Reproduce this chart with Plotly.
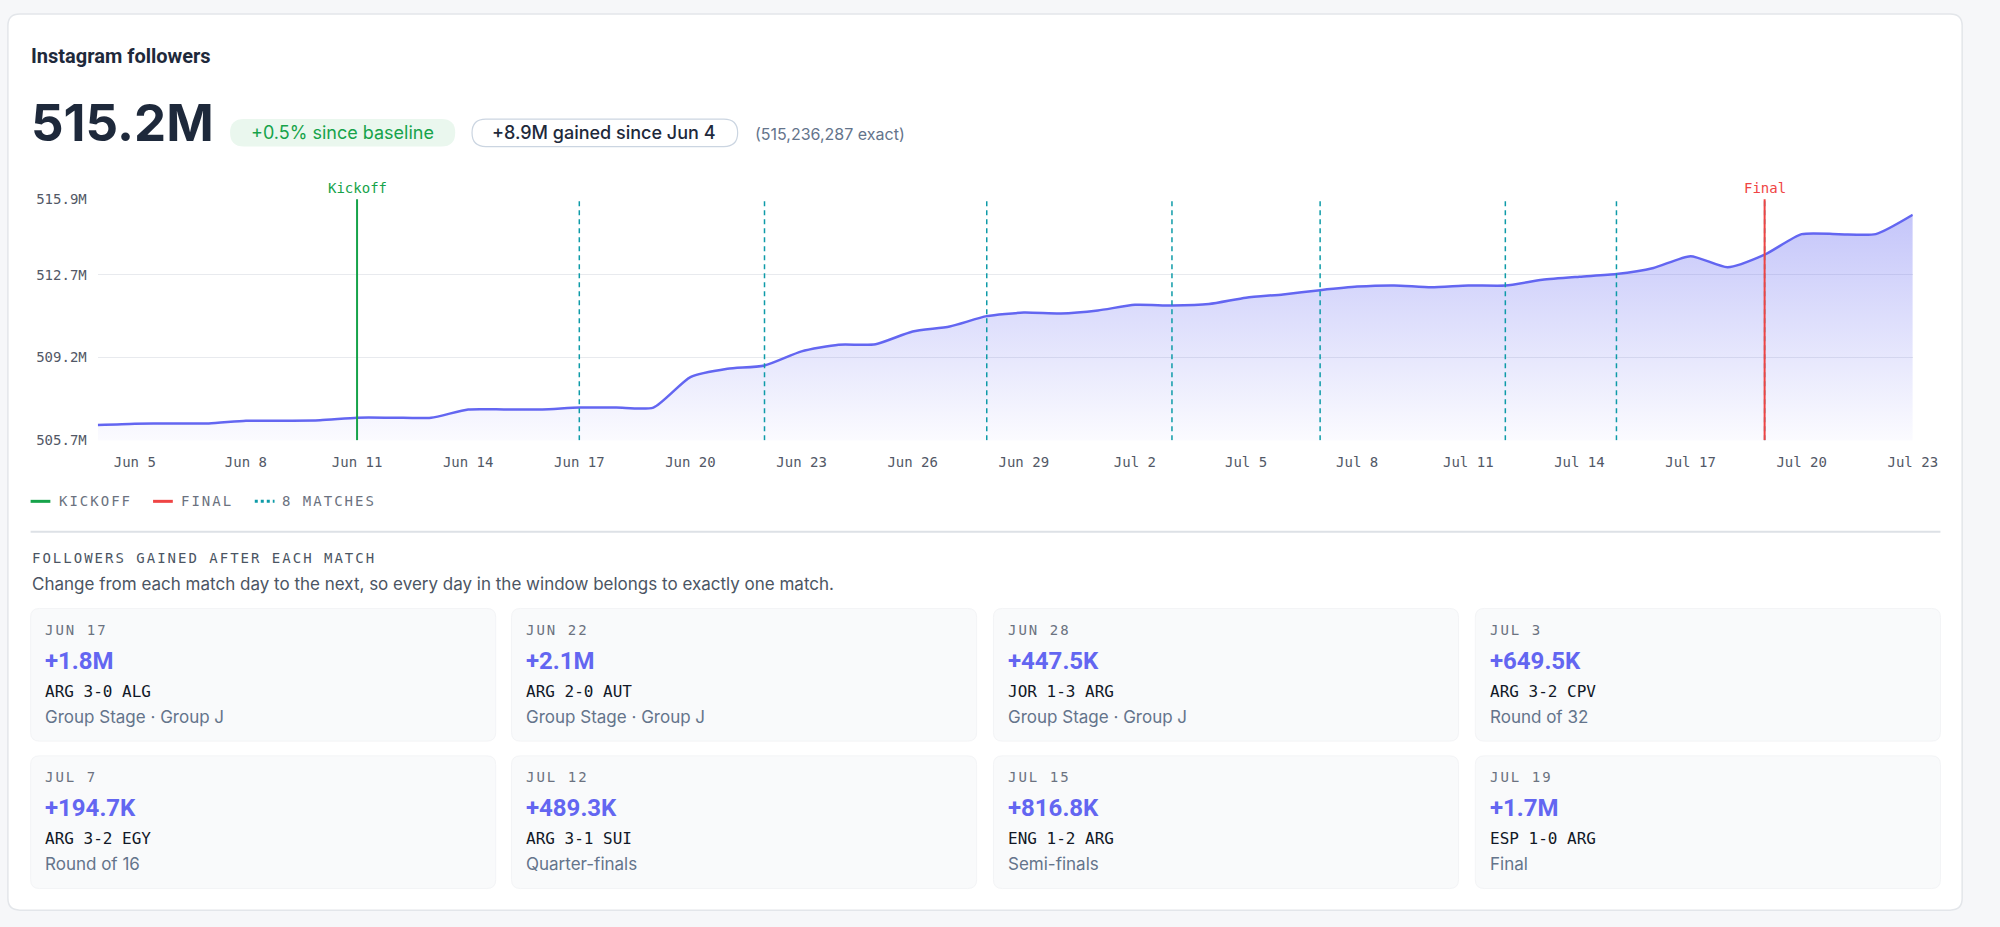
import pandas as pd
import plotly.graph_objects as go

# ─── Data ─────────────────────────────────────────────
dates = pd.date_range("2026-06-04", "2026-07-23", freq="D")
followers_m = [
    506.34, 506.40, 506.41, 506.41, 506.52, 506.52, 506.54, 506.65, 506.65, 506.65,
    507.00, 507.00, 507.00, 507.08, 507.08, 507.08, 508.37, 508.72, 508.86, 509.46,
    509.74, 509.76, 510.30, 510.51, 510.95, 511.10, 511.06, 511.19, 511.43, 511.40,
    511.46, 511.73, 511.87, 512.05, 512.20, 512.25, 512.17, 512.25, 512.245, 512.49,
    512.62, 512.73, 512.99, 513.49, 513.02, 513.55, 514.42, 514.42, 514.42, 515.24,
]

kickoff_date = "2026-06-11"
final_date = "2026-07-19"
match_dates = ["2026-06-17", "2026-06-22", "2026-06-28", "2026-07-03",
               "2026-07-07", "2026-07-12", "2026-07-15", "2026-07-19"]

x_tick_dates = ["2026-06-05", "2026-06-08", "2026-06-11", "2026-06-14", "2026-06-17",
                "2026-06-20", "2026-06-23", "2026-06-26", "2026-06-29", "2026-07-02",
                "2026-07-05", "2026-07-08", "2026-07-11", "2026-07-14", "2026-07-17",
                "2026-07-20", "2026-07-23"]
x_tick_labels = ["Jun 5", "Jun 8", "Jun 11", "Jun 14", "Jun 17", "Jun 20", "Jun 23",
                 "Jun 26", "Jun 29", "Jul 2", "Jul 5", "Jul 8", "Jul 11", "Jul 14",
                 "Jul 17", "Jul 20", "Jul 23"]
y_tick_vals = [505.7, 509.2, 512.7, 515.9]
y_tick_labels = ["505.7M", "509.2M", "512.7M", "515.9M"]

card_dates = ["JUN 17", "JUN 22", "JUN 28", "JUL 3", "JUL 7", "JUL 12", "JUL 15", "JUL 19"]
card_gains = ["+1.8M", "+2.1M", "+447.5K", "+649.5K", "+194.7K", "+489.3K", "+816.8K", "+1.7M"]
card_matches = ["ARG 3-0 ALG", "ARG 2-0 AUT", "JOR 1-3 ARG", "ARG 3-2 CPV",
                "ARG 3-2 EGY", "ARG 3-1 SUI", "ENG 1-2 ARG", "ESP 1-0 ARG"]
card_stages = ["Group Stage · Group J", "Group Stage · Group J", "Group Stage · Group J",
               "Round of 32", "Round of 16", "Quarter-finals", "Semi-finals", "Final"]

# ─── Style ────────────────────────────────────────────
W, H = 2000, 927
SANS = "Inter, Roboto, sans-serif"
NARROW = "Roboto, Inter, sans-serif"
MONO = "'DejaVu Sans Mono', 'Liberation Mono', monospace"
INK = "#1e293b"
MUTED = "#64748b"
INDIGO = "#6366f1"
GREEN = "#16a34a"
RED = "#ef4444"
TEAL = "#0e9ba8"


def fx(p):
    # page pixel -> paper fraction
    return p / W


def fy(p):
    return 1 - p / H


def rrect(x0, y0, x1, y1, r, fill, line=None, lw=0, layer="below"):
    path = (f"M {fx(x0 + r)},{fy(y0)} L {fx(x1 - r)},{fy(y0)} Q {fx(x1)},{fy(y0)} {fx(x1)},{fy(y0 + r)} "
            f"L {fx(x1)},{fy(y1 - r)} Q {fx(x1)},{fy(y1)} {fx(x1 - r)},{fy(y1)} "
            f"L {fx(x0 + r)},{fy(y1)} Q {fx(x0)},{fy(y1)} {fx(x0)},{fy(y1 - r)} "
            f"L {fx(x0)},{fy(y0 + r)} Q {fx(x0)},{fy(y0)} {fx(x0 + r)},{fy(y0)} Z")
    return dict(type="path", path=path, xref="paper", yref="paper", fillcolor=fill,
                line=dict(color=line or fill, width=lw), layer=layer)


def label(x, y, s, size, color, family=SANS, weight=400, anchor="left", spacing=None):
    if spacing:
        s = f'<span style="letter-spacing:{spacing}px">{s}</span>'
    return dict(x=fx(x), y=fy(y), xref="paper", yref="paper", text=s, showarrow=False,
                xanchor=anchor, yanchor="middle", borderpad=0, borderwidth=0,
                font=dict(family=family, size=size, color=color, weight=weight))


shapes = []
annotations = []

# outer card
shapes.append(rrect(8, 6, 1987, 918, 12, "#ffffff", "#e3e6ea", 1.5))

# header
annotations.append(label(31, 49, "Instagram followers", 20, INK, NARROW, 700))
annotations.append(label(31, 117, "515.2M", 51, INK, SANS, 700))
shapes.append(rrect(233, 113, 461, 141, 14, "#eaf7ee"))
annotations.append(label(347, 127, "+0.5% since baseline", 18, GREEN, anchor="center"))
shapes.append(rrect(478, 113, 747, 141, 14, "#ffffff", "#cbd5e1", 1.2))
annotations.append(label(612, 127, "+8.9M gained since Jun 4", 18, INK, weight=500, anchor="center"))
annotations.append(label(765, 128, "(515,236,287 exact)", 16, MUTED))

# event markers on the chart
for d in match_dates:
    shapes.append(dict(type="line", xref="x", yref="y", x0=d, x1=d, y0=505.7, y1=515.9,
                       line=dict(color=TEAL, width=1.5, dash="5px,4px")))
shapes.append(dict(type="line", xref="x", yref="y", x0=kickoff_date, x1=kickoff_date,
                   y0=505.7, y1=515.9, line=dict(color=GREEN, width=2)))
shapes.append(dict(type="line", xref="x", yref="y", x0=final_date, x1=final_date,
                   y0=505.7, y1=515.9, line=dict(color=RED, width=2)))
for d, name, col in [(kickoff_date, "Kickoff", GREEN), (final_date, "Final", RED)]:
    annotations.append(dict(x=d, y=fy(183), xref="x", yref="paper", text=name, showarrow=False,
                            xanchor="center", yanchor="middle",
                            font=dict(family=MONO, size=14, color=col)))

# legend row
legend_items = [(31, 60, GREEN, "solid", "KICKOFF"), (155, 183, RED, "solid", "FINAL"),
                (258, 286, TEAL, "3px,3px", "8 MATCHES")]
for x0, tx, col, dash, name in legend_items:
    shapes.append(dict(type="line", xref="paper", yref="paper", x0=fx(x0), x1=fx(x0 + 20),
                       y0=fy(502), y1=fy(502), line=dict(color=col, width=3, dash=dash)))
    annotations.append(label(tx, 502, name, 14, "#6b7280", MONO, spacing=2))

# divider + section header
shapes.append(dict(type="line", xref="paper", yref="paper", x0=fx(31), x1=fx(1965),
                   y0=fy(533), y1=fy(533), line=dict(color="#dde1e6", width=2)))
annotations.append(label(32, 560, "FOLLOWERS GAINED AFTER EACH MATCH", 14, "#4b5563", MONO, spacing=2))
annotations.append(label(32, 586, "Change from each match day to the next, so every day in the window "
                                  "belongs to exactly one match.", 17, "#4b5563"))

# match cards
card_lefts = [31, 518, 1006, 1494]
card_w = 471
row_tops = [611, 761]
for i in range(len(card_dates)):
    cx = card_lefts[i % 4]
    cy = row_tops[i // 4]
    shapes.append(rrect(cx, cy, cx + card_w, cy + 135, 9, "#f9fafb", "#f3f4f6", 1))
    annotations.append(label(cx + 15, cy + 22, card_dates[i], 14, "#6b7280", MONO, spacing=2))
    annotations.append(label(cx + 15, cy + 53, card_gains[i], 24, INDIGO, NARROW, 700))
    annotations.append(label(cx + 15, cy + 84, card_matches[i], 16, "#111827", MONO))
    annotations.append(label(cx + 15, cy + 110, card_stages[i], 17, MUTED))

# ─── Figure ───────────────────────────────────────────
trace = go.Scatter(
    x=dates, y=followers_m, mode="lines",
    line=dict(color=INDIGO, width=2.5, shape="spline", smoothing=0.6),
    fill="tozeroy",
    fillgradient=dict(type="vertical", start=505.7, stop=515.9,
                      colorscale=[[0, "rgba(99,102,241,0.02)"], [1, "rgba(99,102,241,0.40)"]]),
    hoverinfo="skip",
)

fig = go.Figure(data=[trace])
fig.update_layout(
    width=W, height=H,
    margin=dict(l=0, r=0, t=0, b=0),
    paper_bgcolor="#f6f7f9",
    plot_bgcolor="rgba(0,0,0,0)",
    showlegend=False,
    shapes=shapes,
    annotations=annotations,
    xaxis=dict(
        type="date", range=["2026-06-04", "2026-07-23"], domain=[fx(99), fx(1937)],
        tickvals=x_tick_dates, ticktext=x_tick_labels, showgrid=False, zeroline=False,
        showline=False, ticks="", ticklabelstandoff=12,
        tickfont=dict(family=MONO, size=14, color="#525866"), fixedrange=True,
    ),
    yaxis=dict(
        range=[505.69, 515.91], domain=[fy(440), fy(194.3)],
        tickvals=y_tick_vals, ticktext=y_tick_labels, gridcolor="#e8eaee", gridwidth=1,
        zeroline=False, showline=False, ticks="", ticklabelstandoff=10,
        tickfont=dict(family=MONO, size=14, color="#525866"), fixedrange=True,
    ),
)

fig.write_html("out.html", config={"displayModeBar": False},
               post_script="document.body.style.margin='0';document.body.style.overflow='hidden';")
